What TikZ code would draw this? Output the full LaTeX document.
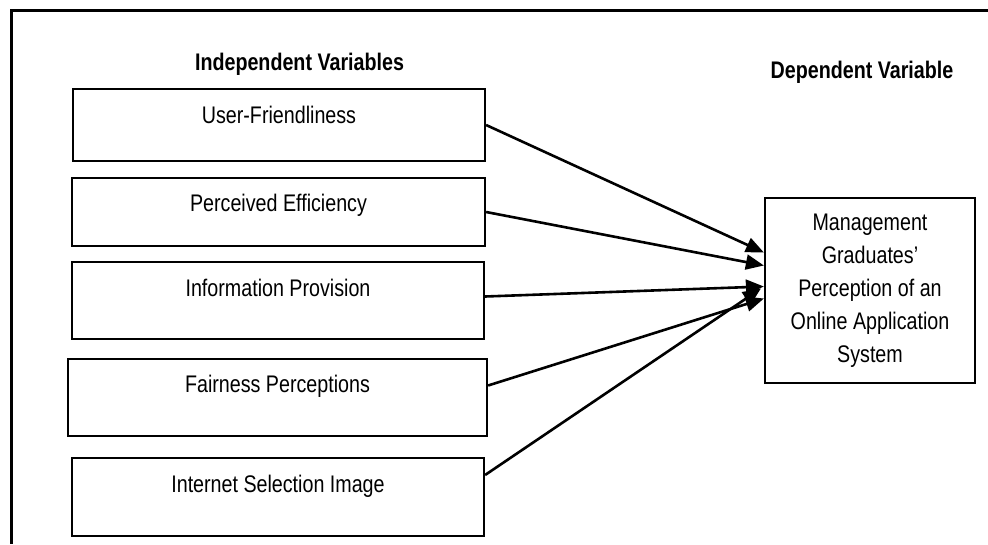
\documentclass[tikz,border=0pt]{standalone}
\usepackage{fontspec}
\setmainfont{Liberation Sans}[FakeStretch=0.82]
\usepackage{tikz}
\usetikzlibrary{arrows.meta,positioning}

\begin{document}
\begin{tikzpicture}[x=1pt,y=-1pt,font=\fontsize{24}{33}\selectfont,
    varbox/.style={draw,line width=2.2pt,inner sep=0pt},
    vartext/.style={inner sep=0pt,anchor=base},
    headtext/.style={inner sep=0pt,anchor=base,font=\fontsize{24}{33}\selectfont\bfseries},
    link/.style={line width=2.6pt,-{Triangle[length=18pt,width=15pt]}}]
		\useasboundingbox (0,0) rectangle (988,544);
		% frame
		\draw[line width=3pt] (988,10) -- (11,10) -- (11,544);

		% headings
		\node[headtext] (indep) at (299.5,70.5) {Independent Variables};
		\node[headtext] (dep) at (862,78.5) {Dependent Variable};

		% independent variables
		\node[varbox,minimum width=412pt,minimum height=72pt] (uf) at (279,125) {};
		\node[vartext] (uftext) at (279,123.5) {User-Friendliness};
		\node[varbox,minimum width=413pt,minimum height=68pt] (pe) at (278.5,212) {};
		\node[vartext] (petext) at (278.5,211.5) {Perceived Efficiency};
		\node[varbox,minimum width=412pt,minimum height=77pt] (ip) at (278,300.5) {};
		\node[vartext] (iptext) at (278,296.5) {Information Provision};
		\node[varbox,minimum width=419pt,minimum height=77pt] (fp) at (277.5,397.5) {};
		\node[vartext] (fptext) at (277.5,392.5) {Fairness Perceptions};
		\node[varbox,minimum width=412pt,minimum height=78pt] (isi) at (278,497) {};
		\node[vartext] (isitext) at (278,492.5) {Internet Selection Image};

		% dependent variable
		\node[varbox,minimum width=210pt,minimum height=185pt,align=center] (mg) at (870,290.5)
			{Management\\Graduates'\\Perception of an\\Online Application\\System};

		% links
		\draw[link] (uf.east) -- ([yshift=38pt]mg.west);
		\draw[link] (pe.east) -- ([yshift=25pt]mg.west);
		\draw[link] ([yshift=4pt]ip.east) -- ([yshift=4pt]mg.west);
		\draw[link] ([yshift=12pt]fp.east) -- ([yshift=-8pt]mg.west);
		\draw[link] ([yshift=22pt]isi.east) -- ([xshift=-3pt,yshift=2pt]mg.west);
\end{tikzpicture}
\end{document}
